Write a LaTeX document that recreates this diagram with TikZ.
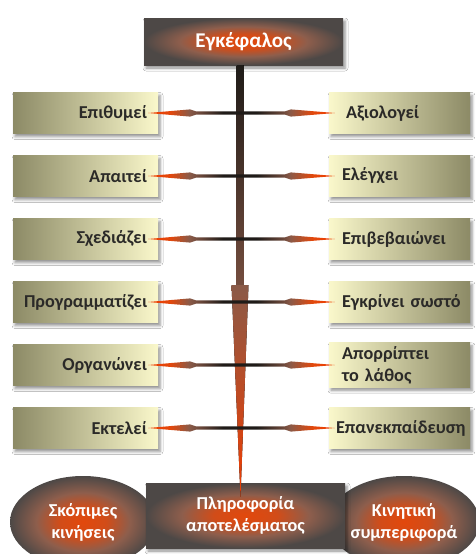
\documentclass[tikz,border=0pt]{standalone}
\usepackage{fontspec}
\setmainfont{Carlito}
\usetikzlibrary{calc,shapes.geometric,shadows.blur}

\definecolor{olive}{HTML}{8C8A66}
\definecolor{cream}{HTML}{FAF8CB}
\definecolor{ink}{HTML}{2B2A28}
\definecolor{ember}{HTML}{E2480C}
\definecolor{umber}{HTML}{8E5E4C}
\definecolor{slate}{HTML}{4D4846}
\definecolor{soot}{HTML}{1F1B18}
\definecolor{rust}{HTML}{8A5A48}
\definecolor{flame}{HTML}{F03C00}

% orange core fading to grey-brown
\pgfdeclareradialshading{glow}{\pgfpoint{0bp}{0bp}}{%
  color(0bp)=(ember); color(8bp)=(ember!80!umber); color(16bp)=(umber);
  color(25bp)=(slate); color(50bp)=(slate)}

% spear-shaped connector: orange tips, brown shoulders, black middle
\pgfdeclarehorizontalshading{spear}{100bp}{%
  color(0bp)=(flame); color(25bp)=(flame); color(31bp)=(ember);
  color(36bp)=(rust); color(39bp)=(rust!70!soot); color(45bp)=(soot);
  color(54bp)=(soot); color(61bp)=(rust!70!soot); color(63bp)=(rust);
  color(69bp)=(ember); color(75bp)=(flame); color(100bp)=(flame)}

\tikzset{
  boxshadow/.style={blur shadow={shadow xshift=2pt, shadow yshift=-3pt,
      shadow blur radius=3pt, shadow opacity=45}},
  boxfont/.style={font=\bfseries\fontsize{18.2}{22}\selectfont},
  lbox/.style={boxshadow, boxfont, text=ink, minimum height=41pt,
      text width=123pt, inner xsep=11pt, align=right,
      left color=olive, right color=cream},
  rbox/.style={boxshadow, boxfont, text=ink, minimum height=41pt,
      text width=115pt, inner xsep=13pt, align=left,
      left color=cream, right color=olive},
  darkbox/.style={boxshadow, boxfont, text=white, shading=glow,
      align=center, inner sep=0pt},
  blob/.style={ellipse, boxfont, text=white, shading=glow,
      align=center, inner sep=0pt, minimum width=146pt, minimum height=92pt},
}

% connector between a left box #1 and a right box #2
\newcommand\spear[2]{%
  \path[shading=spear]
    ($(#1.east)+(-10,0)$) --
    ($(sa |- #1.east)+(0,-3.6)$) --
    ($(sb |- #1.east)+(0,-1.6)$) --
    ($(sc |- #1.east)+(0,-1.6)$) --
    ($(sd |- #1.east)+(0,-3.6)$) --
    ($(#2.west)+(6,0)$) --
    ($(sd |- #1.east)+(0,3.6)$) --
    ($(sc |- #1.east)+(0,1.6)$) --
    ($(sb |- #1.east)+(0,1.6)$) --
    ($(sa |- #1.east)+(0,3.6)$) -- cycle;}

\begin{document}
\begin{tikzpicture}[x=1pt,y=-1pt]
\useasboundingbox (0,0) rectangle (475,554);
\fill[white] (0,0) rectangle (475,554);

% bottom ellipses and result box
\node[blob] (aims) at (83,522) {Σκόπιμες\\κινήσεις};
\node[blob] (motor) at (404,522) {Κινητική\\συμπεριφορά};
\node[darkbox, minimum width=199pt, minimum height=65pt] (info) at (245.5,515.5)
  {Πληροφορία\\αποτελέσματος};

% top box
\node[darkbox, minimum width=199pt, minimum height=47pt,
      font=\bfseries\fontsize{21}{24}\selectfont] (brain) at (243.5,41.5) {Εγκέφαλος};

% left and right boxes
\foreach \i/\y/\txt in {1/113/Επιθυμεί, 2/176/Απαιτεί, 3/239/Σχεδιάζει,
    4/302/Προγραμματίζει, 5/365/Οργανώνει, 6/428/Εκτελεί}
  \node[lbox] (L\i) at (85.5,\y) {\txt};
\node[rbox] (R1) at (399.5,113) {\hspace*{4pt}Αξιολογεί};
\node[rbox] (R2) at (399.5,176) {Ελέγχει};
\node[rbox] (R3) at (399.5,239) {Επιβεβαιώνει};
\node[rbox] (R4) at (399.5,302) {\mbox{Εγκρίνει σωστό}};
\node[rbox] (R5) at (399.5,365) {Απορρίπτει\\το λάθος};
\node[rbox] (R6) at (399.5,428) {\hspace*{-6pt}Επανεκπαίδευση};

% trunk: narrow bar, then a tapering wedge down to the result box
\coordinate (axis) at (240,0);
\coordinate (neck) at (240,286);
\fill[top color=soot, bottom color=rust!80!soot]
  ($(axis |- brain.south)+(-3.5,0)$) rectangle ($(neck)+(3.5,0)$);
\fill[top color=rust, middle color=ember!85!rust, bottom color=flame]
  ($(neck)+(-8.5,-1)$) -- ($(neck)+(8.5,-1)$) --
  ($(axis |- info.north)+(0.5,14)$) -- cycle;

% spear connectors
\coordinate (sa) at (190,0);
\coordinate (sb) at (196,0);
\coordinate (sc) at (285,0);
\coordinate (sd) at (291,0);
\foreach \i in {1,...,6} { \spear{L\i}{R\i} }
\end{tikzpicture}
\end{document}
